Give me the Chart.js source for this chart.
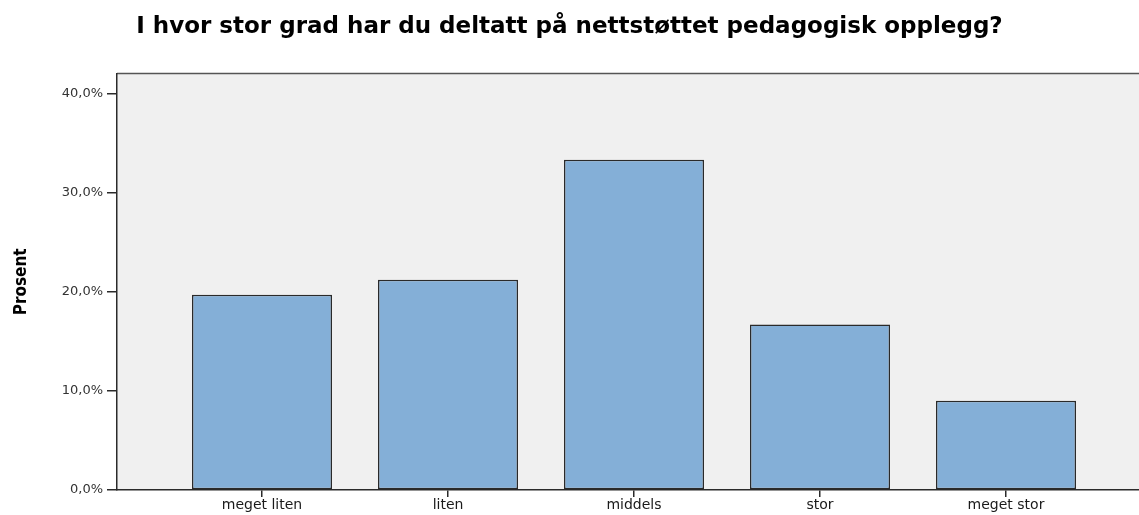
<!DOCTYPE html>
<html>
<head>
<meta charset="utf-8">
<script src="https://cdn.jsdelivr.net/npm/chart.js@4"></script>
<style>
    html, body { margin: 0; padding: 0; background: #ffffff; }
    #wrap { width: 1139px; height: 515px; }
</style>
</head>
<body>
<div id="wrap"><canvas id="chart"></canvas></div>
<script>
// Datos del gráfico
const categories = ['meget liten', 'liten', 'middels', 'stor', 'meget stor'];
const percentages = [19.7, 21.2, 33.3, 16.7, 9.0];
const yTicks = [0, 10, 20, 30, 40];
const titleText = 'I hvor stor grad har du deltatt på nettstøttet pedagogisk opplegg?';
const yTitle = 'Prosent';

// Fondo gris del área del gráfico y borde superior
const plotBackground = {
    id: 'plotBackground',
    beforeDraw(chart) {
        const { ctx, chartArea } = chart;
        ctx.save();
        ctx.fillStyle = '#f0f0f0';
        ctx.fillRect(chartArea.left, chartArea.top, chartArea.right - chartArea.left, chartArea.bottom - chartArea.top);
        ctx.strokeStyle = '#555555';
        ctx.lineWidth = 1.5;
        ctx.beginPath();
        ctx.moveTo(chartArea.left, chartArea.top);
        ctx.lineTo(chartArea.right, chartArea.top);
        ctx.stroke();
        ctx.restore();
    }
};

const ctx = document.getElementById('chart').getContext('2d');
const chart = new Chart(ctx, {
    type: 'bar',
    data: {
        datasets: [{
            label: yTitle,
            data: categories.map((c, i) => ({ x: i, y: percentages[i] })),
            backgroundColor: '#84afd7',
            borderColor: '#2a2a2a',
            borderWidth: 1.5,
            borderSkipped: false,
            categoryPercentage: 1,
            barPercentage: 0.753
        }]
    },
    options: {
        responsive: true,
        maintainAspectRatio: false,
        animation: false,
        layout: { padding: 0 },
        plugins: {
            legend: { display: false },
            tooltip: { enabled: false },
            title: {
                display: true,
                text: titleText,
                color: '#000000',
                font: { family: 'DejaVu Sans', size: 23, weight: 'bold' },
                padding: { top: 13, bottom: 33 }
            }
        },
        scales: {
            x: {
                type: 'linear',
                offset: false,
                min: -0.7796,
                max: 4.715,
                afterFit: (scale) => { scale.height = 25; },
                afterBuildTicks: (scale) => {
                    scale.ticks = categories.map((c, i) => ({ value: i }));
                },
                grid: {
                    display: true,
                    offset: false,
                    drawOnChartArea: false,
                    drawTicks: true,
                    tickLength: 7,
                    color: '#2a2a2a',
                    lineWidth: 1.5
                },
                border: { display: true, color: '#2a2a2a', width: 1.5 },
                ticks: {
                    autoSkip: false,
                    maxRotation: 0,
                    padding: 0,
                    color: '#1a1a1a',
                    font: { family: 'DejaVu Sans', size: 14 },
                    callback: (value) => categories[value]
                }
            },
            y: {
                min: 0,
                max: 42,
                afterFit: (scale) => { scale.width = 117; },
                afterBuildTicks: (scale) => {
                    scale.ticks = yTicks.map(v => ({ value: v }));
                },
                grid: {
                    display: true,
                    drawOnChartArea: false,
                    drawTicks: true,
                    tickLength: 10,
                    color: '#2a2a2a',
                    lineWidth: 1.5
                },
                border: { display: true, color: '#2a2a2a', width: 1.5 },
                ticks: {
                    padding: 4,
                    color: '#333333',
                    font: { family: 'DejaVu Sans', size: 13 },
                    callback: (value) => value.toFixed(1).replace('.', ',') + '%'
                },
                title: {
                    display: true,
                    text: yTitle,
                    color: '#000000',
                    font: { family: "'DejaVu Sans Condensed', 'Liberation Sans', sans-serif", size: 17, weight: 'bold' },
                    padding: { top: 11, bottom: 0 }
                }
            }
        }
    },
    plugins: [plotBackground]
});
</script>
</body>
</html>
